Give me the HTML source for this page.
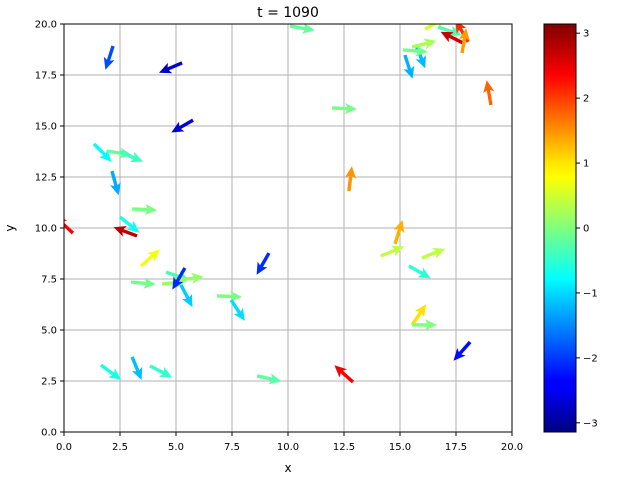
<!DOCTYPE html>
<html><head><meta charset="utf-8"><style>
html,body{margin:0;padding:0;background:#fff;}
svg{display:block;font-family:"DejaVu Sans","Liberation Sans",sans-serif;}
</style></head><body>
<svg id="chart" width="640" height="480" viewBox="0 0 640 480">
<defs>
<clipPath id="plotclip"><rect x="64" y="24" width="448" height="408"/></clipPath>
<linearGradient id="jetgrad" x1="0" y1="1" x2="0" y2="0">
<stop offset="0" stop-color="#00007f"/><stop offset="0.11" stop-color="#0000ff"/>
<stop offset="0.125" stop-color="#0000ff"/><stop offset="0.34" stop-color="#00d8ff"/>
<stop offset="0.375" stop-color="#0ff" stop-opacity="1"/><stop offset="0.5" stop-color="#7fff7f"/>
<stop offset="0.625" stop-color="#ff0"/><stop offset="0.66" stop-color="#ffe600"/>
<stop offset="0.875" stop-color="#ff0000"/><stop offset="1" stop-color="#7f0000"/>
</linearGradient>
</defs>
<rect x="0" y="0" width="640" height="480" fill="#fff"/>
<text x="288" y="17" font-size="14" text-anchor="middle">t = 1090</text>
<g id="grid"></g>
<g id="arrows" clip-path="url(#plotclip)"></g>
<rect x="64" y="24" width="448" height="408" fill="none" stroke="#000" stroke-width="1"/>
<g id="xticks"></g>
<g id="yticks"></g>
<text x="288" y="472" font-size="12" text-anchor="middle">x</text>
<text x="14" y="228" font-size="12" text-anchor="middle" transform="rotate(-90 14 228)">y</text>
<rect x="544" y="24" width="32" height="408" fill="url(#jetgrad)" stroke="#000" stroke-width="1"/>
<g id="cticks"></g>
</svg>
<script>
const xs=[2.19,5.27,5.76,1.34,1.92,2.50,2.14,3.04,2.50,0.40,3.26,3.44,2.99,4.55,4.38,5.13,5.40,5.22,9.15,6.83,7.46,1.65,3.04,3.84,8.62,10.09,11.96,12.72,19.06,15.22,15.71,15.13,15.54,16.12,16.70,17.81,18.04,17.77,14.78,14.15,15.98,15.40,15.54,15.54,18.13,12.90];
const ys=[18.92,18.09,15.29,14.12,13.77,13.73,12.79,10.93,10.54,9.75,9.61,8.14,7.35,7.84,7.25,7.45,8.04,7.21,8.77,6.67,6.47,3.28,3.68,3.24,2.75,19.90,15.88,11.81,16.03,18.48,18.97,18.73,18.87,19.75,19.85,19.07,19.12,18.58,9.22,8.63,8.53,8.14,5.25,5.25,4.41,2.45];
const angles=[-1.88,-2.74,-2.62,-0.79,-0.15,-0.4,-1.3,-0.04,-0.68,2.4,2.78,0.72,-0.09,-0.33,0.12,0.13,-2.1,-1.09,-2.09,-0.04,-0.99,-0.63,-1.18,-0.48,-0.22,-0.17,-0.04,1.45,1.74,-1.26,-1.19,-0.08,0.25,0.5,-0.32,2.68,2.1,1.4,1.27,0.39,0.38,-0.52,0.97,0,-2.3,2.41];
const xTicks=[0,2.5,5,7.5,10,12.5,15,17.5,20];
const yTicks=[0,2.5,5,7.5,10,12.5,15,17.5,20];
const cTicks=[-3,-2,-1,0,1,2,3];

const NS="http://www.w3.org/2000/svg";
const X=v=>64+v/20*448, Y=v=>432-v/20*408, C=v=>432-(v+Math.PI)/(2*Math.PI)*408;
function jet(t){const r=Math.min(4*t-1.5,-4*t+4.5),g=Math.min(4*t-0.5,-4*t+3.5),b=Math.min(4*t+0.5,-4*t+2.5);
 const c=v=>Math.round(255*Math.max(0,Math.min(1,v)));return `rgb(${c(r)},${c(g)},${c(b)})`;}
function mk(tag,attrs,parent){const e=document.createElementNS(NS,tag);for(const k in attrs)e.setAttribute(k,attrs[k]);parent.appendChild(e);return e;}
const grid=document.getElementById('grid'),xt=document.getElementById('xticks'),yt=document.getElementById('yticks'),ct=document.getElementById('cticks'),ar=document.getElementById('arrows');
xTicks.forEach(v=>{const x=X(v);
 const g=mk('line',{x1:x,x2:x,y1:24,y2:432,stroke:'#b0b0b0','stroke-width':1},grid);
 
 
 mk('line',{x1:x,x2:x,y1:432,y2:436,stroke:'#000'},xt);
 const t=mk('text',{x:x,y:450,'font-size':10,'text-anchor':'middle'},xt);t.textContent=v.toFixed(1);
 
 });
yTicks.forEach(v=>{const y=Y(v);
 const g=mk('line',{x1:64,x2:512,y1:y,y2:y,stroke:'#b0b0b0','stroke-width':1},grid);
 
 
 mk('line',{x1:60,x2:64,y1:y,y2:y,stroke:'#000'},yt);
 const t=mk('text',{x:57,y:y+3.5,'font-size':10,'text-anchor':'end'},yt);t.textContent=v.toFixed(1);
 
 });
cTicks.forEach(v=>{const y=C(v);
 mk('line',{x1:576,x2:580,y1:y,y2:y,stroke:'#000'},ct);
 const t=mk('text',{x:583,y:y+3.5,'font-size':10},ct);t.textContent=String(v).replace('-','\u2212');
 
 });
const L=25,w=1.7,hl=12,hw=5.6,ha=10;
xs.forEach((xv,i)=>{const a=angles[i],x0=X(xv),y0=Y(ys[i]);
 const ux=Math.cos(a),uy=-Math.sin(a),px=-uy,py=ux;
 const pt=(s,n)=>[x0+ux*s+px*n,y0+uy*s+py*n];
 const pts=[pt(0,-w),pt(L-ha,-w),pt(L-hl,-hw),pt(L,0),pt(L-hl,hw),pt(L-ha,w),pt(0,w)];
 const p=mk('polygon',{points:pts.map(q=>q[0].toFixed(1)+','+q[1].toFixed(1)).join(' '),fill:jet((a+Math.PI)/(2*Math.PI))},ar);
 
 });
</script>
</body></html>
